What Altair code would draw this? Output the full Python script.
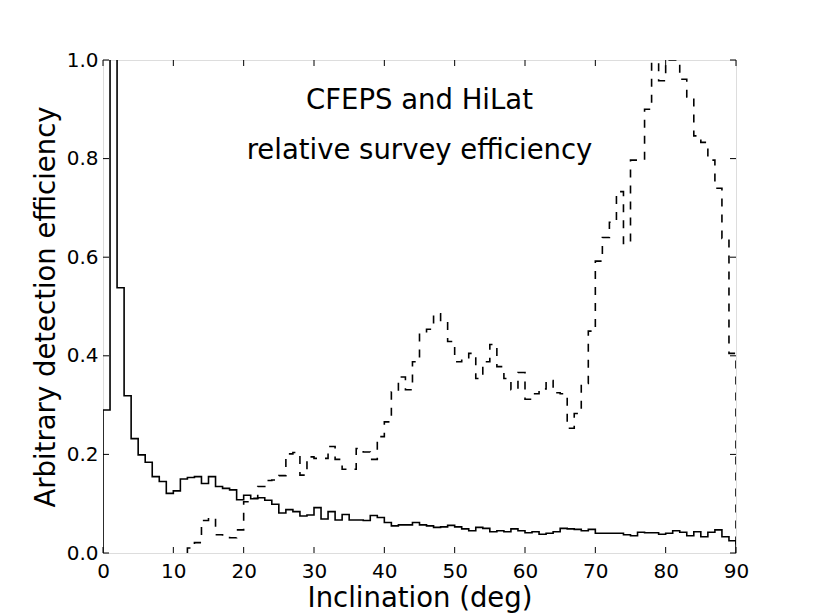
import altair as alt
import pandas as pd

# 1-degree bins, left edges 0..89
bin_left = list(range(90))

cfeps = [0.290, 1.800, 0.538, 0.319, 0.232, 0.199, 0.184, 0.155, 0.145, 0.121,
         0.126, 0.150, 0.153, 0.155, 0.141, 0.155, 0.135, 0.131, 0.128, 0.108,
         0.117, 0.110, 0.112, 0.107, 0.099, 0.081, 0.088, 0.084, 0.075, 0.077,
         0.092, 0.069, 0.084, 0.067, 0.078, 0.067, 0.067, 0.066, 0.076, 0.072,
         0.062, 0.055, 0.057, 0.057, 0.062, 0.057, 0.055, 0.052, 0.053, 0.056,
         0.053, 0.049, 0.045, 0.052, 0.050, 0.043, 0.045, 0.043, 0.049, 0.045,
         0.041, 0.043, 0.038, 0.040, 0.043, 0.050, 0.049, 0.048, 0.045, 0.048,
         0.040, 0.040, 0.040, 0.040, 0.037, 0.035, 0.042, 0.041, 0.041, 0.038,
         0.040, 0.045, 0.042, 0.035, 0.043, 0.033, 0.042, 0.047, 0.033, 0.025]

hilat = [0.0, 0.0, 0.0, 0.0, 0.0, 0.0, 0.0, 0.0, 0.0, 0.0,
         0.0, 0.0, 0.010, 0.021, 0.066, 0.071, 0.037, 0.033, 0.031, 0.047,
         0.104, 0.111, 0.135, 0.147, 0.148, 0.157, 0.201, 0.204, 0.158, 0.195,
         0.192, 0.192, 0.216, 0.190, 0.170, 0.170, 0.212, 0.205, 0.190, 0.236,
         0.266, 0.327, 0.357, 0.331, 0.388, 0.446, 0.454, 0.485, 0.469, 0.429,
         0.388, 0.391, 0.405, 0.354, 0.388, 0.423, 0.378, 0.354, 0.331, 0.366,
         0.312, 0.323, 0.333, 0.350, 0.325, 0.323, 0.253, 0.283, 0.344, 0.450,
         0.592, 0.640, 0.671, 0.733, 0.628, 0.797, 0.797, 0.900, 0.995, 0.958,
         1.000, 1.000, 0.961, 0.925, 0.846, 0.833, 0.797, 0.740, 0.638, 0.405]

x_ticks = [0, 10, 20, 30, 40, 50, 60, 70, 80, 90]
y_ticks = [0.0, 0.2, 0.4, 0.6, 0.8, 1.0]

ann_x = [45, 45]
ann_y = [0.9, 0.8]
ann_text = ["CFEPS and HiLat", "relative survey efficiency"]

W, H = 633, 493
FONT = "DejaVu Sans"


def step_rows(vals, name):
    # outline of a step histogram; leading empty bins lie on the axis line
    first = next(k for k, v in enumerate(vals) if v > 0)
    rows = [{"x": bin_left[first], "y": 0.0, "i": 0, "s": name}]
    for k in range(first, len(vals)):
        rows.append({"x": bin_left[k], "y": vals[k], "i": k + 1, "s": name})
    rows.append({"x": 90, "y": vals[-1], "i": len(vals) + 1, "s": name})
    rows.append({"x": 90, "y": 0.0, "i": len(vals) + 2, "s": name})
    return rows


df_c = pd.DataFrame(step_rows(cfeps, "CFEPS"))
df_h = pd.DataFrame(step_rows(hilat, "HiLat"))

xs = alt.Scale(domain=[0, 90], nice=False, zero=False)
ys = alt.Scale(domain=[0, 1], nice=False, zero=False)

xaxis = alt.Axis(values=x_ticks, format="d", title="Inclination (deg)",
                 labelFontSize=20, labelFont=FONT, labelColor="black",
                 labelFlush=False, labelOverlap=False, labelPadding=8,
                 tickSize=0, domain=False, grid=False,
                 titleFont=FONT, titleFontSize=27.5, titleFontWeight="normal",
                 titleColor="black", titlePadding=3)
yaxis = alt.Axis(values=y_ticks, format=".1f", title="Arbitrary detection efficiency",
                 labelFontSize=20, labelFont=FONT, labelColor="black",
                 labelFlush=False, labelOverlap=False, labelPadding=5,
                 tickSize=0, domain=False, grid=False,
                 titleFont=FONT, titleFontSize=27.5, titleFontWeight="normal",
                 titleColor="black", titlePadding=6)

solid = alt.Chart(df_c).mark_line(interpolate="step-after", color="black",
                                  strokeWidth=1.6, clip=True).encode(
    x=alt.X("x:Q", scale=xs, axis=xaxis),
    y=alt.Y("y:Q", scale=ys, axis=yaxis),
    order="i:Q",
)

dashed = alt.Chart(df_h).mark_line(interpolate="step-after", color="black",
                                   strokeWidth=1.6, strokeDash=[8, 8], clip=True).encode(
    x=alt.X("x:Q", scale=xs),
    y=alt.Y("y:Q", scale=ys),
    order="i:Q",
)

df_xt = pd.DataFrame({"t": x_ticks})
df_yt = pd.DataFrame({"t": y_ticks})
TL = 6

xt_bottom = alt.Chart(df_xt).mark_rule(color="black", strokeWidth=1).encode(
    x=alt.X("t:Q", scale=xs), y=alt.value(H), y2=alt.value(H - TL))
xt_top = alt.Chart(df_xt).mark_rule(color="black", strokeWidth=1).encode(
    x=alt.X("t:Q", scale=xs), y=alt.value(0), y2=alt.value(TL))
yt_left = alt.Chart(df_yt).mark_rule(color="black", strokeWidth=1).encode(
    y=alt.Y("t:Q", scale=ys), x=alt.value(0), x2=alt.value(TL))
yt_right = alt.Chart(df_yt).mark_rule(color="black", strokeWidth=1).encode(
    y=alt.Y("t:Q", scale=ys), x=alt.value(W), x2=alt.value(W - TL))

df_ann = pd.DataFrame({"x": ann_x, "y": ann_y, "t": ann_text})
ann = alt.Chart(df_ann).mark_text(font=FONT, fontSize=27.5, color="black",
                                  align="center", baseline="alphabetic").encode(
    x=alt.X("x:Q", scale=xs), y=alt.Y("y:Q", scale=ys), text="t:N")

chart = alt.layer(solid, dashed, xt_bottom, xt_top, yt_left, yt_right, ann).properties(
    width=W, height=H,
    autosize=alt.AutoSizeParams(type="none"),
    padding={"left": 95, "top": 52, "right": 73, "bottom": 62},
).configure_view(stroke="black", strokeWidth=1.3).configure(background="white")

chart.save("out.html", embed_options={"renderer": "svg", "actions": False})
